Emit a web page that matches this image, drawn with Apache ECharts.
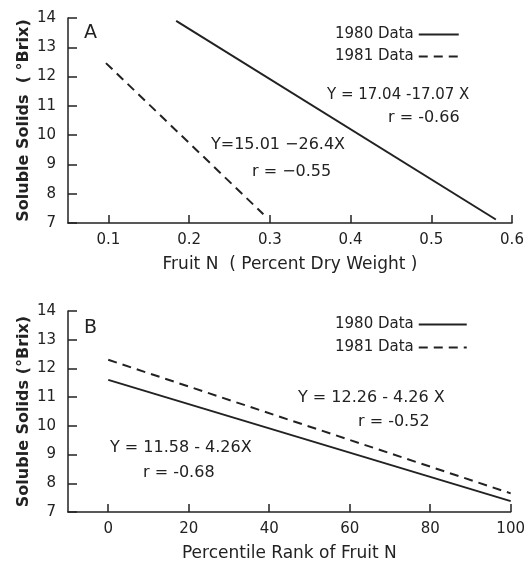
<!DOCTYPE html>
<html>
<head>
<meta charset="utf-8">
<script src="https://cdn.jsdelivr.net/npm/echarts@6/dist/echarts.min.js"></script>
<style>
  html, body { margin: 0; padding: 0; background: #fff; }
  #chart { width: 528px; height: 563px; }
</style>
</head>
<body>
<div id="chart"></div>
<script>
// panel A: soluble solids vs fruit N (fitted lines, end points)
const lineA1980 = [[0.184, 13.9], [0.58, 7.12]];
const lineA1981 = [[0.097, 12.46], [0.292, 7.3]];
// panel B: soluble solids vs percentile rank of fruit N
const lineB1980 = [[0, 11.6], [100, 7.38]];
const lineB1981 = [[0, 12.3], [100, 7.65]];

const xTicksA = [0.1, 0.2, 0.3, 0.4, 0.5, 0.6];
const xTicksB = [0, 20, 40, 60, 80, 100];
const yTicks = [7, 8, 9, 10, 11, 12, 13, 14];

const ink = '#222';
const font = 'DejaVu Sans';

const chart = echarts.init(document.getElementById('chart'));

const yAxisCommon = (gi, name) => ({
  type: 'value', gridIndex: gi, min: yTicks[0], max: yTicks[yTicks.length - 1], interval: 1,
  name: name, nameLocation: 'middle', nameGap: 36, nameMoveOverlap: false,
  nameTextStyle: { color: ink, fontFamily: font, fontSize: 16, fontWeight: 'bold' },
  axisLine: { show: true, onZero: false, lineStyle: { color: ink, width: 1.5 } },
  axisTick: { show: true, inside: true, length: 9, lineStyle: { color: ink, width: 1.5 } },
  axisLabel: { color: ink, fontFamily: font, fontSize: 15, margin: 12 },
  splitLine: { show: false }
});

const xAxisCommon = (gi, min, max, ticks, name, fmt) => ({
  type: 'value', gridIndex: gi, min: min, max: max,
  name: name, nameLocation: 'middle', nameGap: 33,
  nameTextStyle: { color: ink, fontFamily: font, fontSize: 17 },
  axisLine: { show: true, onZero: false, lineStyle: { color: ink, width: 1.5 } },
  axisTick: { show: true, inside: true, length: 8, lineStyle: { color: ink, width: 1.5 }, customValues: ticks },
  axisLabel: { color: ink, fontFamily: font, fontSize: 15, margin: 10, customValues: ticks, formatter: fmt },
  splitLine: { show: false }
});

const solid = { color: ink, width: 2, type: 'solid' };
const dashed = { color: ink, width: 2, type: [9, 6] };

const txt = (left, top, text, size) => ({
  type: 'text', left: left, top: top,
  style: { text: text, fill: ink, font: (size || 16) + 'px "' + font + '"' }
});

const legendCommon = {
  orient: 'vertical', align: 'right', itemHeight: 10,
  data: ['1980 Data', '1981 Data'],
  itemStyle: { color: 'transparent', borderWidth: 0 },
  textStyle: { color: ink, fontFamily: font, fontSize: 15 }
};

chart.setOption({
  backgroundColor: '#fff',
  animation: false,
  grid: [
    { left: 68, top: 18, width: 444, height: 205 },
    { left: 68, top: 311, width: 443, height: 203 }
  ],
  xAxis: [
    xAxisCommon(0, 0.05, 0.6, xTicksA, 'Fruit N  ( Percent Dry Weight )', v => v.toFixed(1)),
    xAxisCommon(1, -10, 100, xTicksB, 'Percentile Rank of Fruit N', v => String(v))
  ],
  yAxis: [
    yAxisCommon(0, 'Soluble Solids  ( °Brix)'),
    yAxisCommon(1, 'Soluble Solids (°Brix)')
  ],
  legend: [
    Object.assign({ left: 330, top: 22, itemGap: 7, itemWidth: 40 }, legendCommon),
    Object.assign({ left: 330, top: 312, itemGap: 8, itemWidth: 48 }, legendCommon)
  ],
  series: [
    { name: '1980 Data', type: 'line', xAxisIndex: 0, yAxisIndex: 0, data: lineA1980, symbol: 'none', lineStyle: solid, itemStyle: { color: ink } },
    { name: '1981 Data', type: 'line', xAxisIndex: 0, yAxisIndex: 0, data: lineA1981, symbol: 'none', lineStyle: dashed, itemStyle: { color: ink } },
    { name: '1980 Data', type: 'line', xAxisIndex: 1, yAxisIndex: 1, data: lineB1980, symbol: 'none', lineStyle: solid, itemStyle: { color: ink } },
    { name: '1981 Data', type: 'line', xAxisIndex: 1, yAxisIndex: 1, data: lineB1981, symbol: 'none', lineStyle: dashed, itemStyle: { color: ink } }
  ],
  graphic: [
    txt(84, 24, 'A', 19),
    txt(327, 88, 'Y = 17.04 -17.07 X', 15),
    txt(388, 110, 'r = -0.66'),
    txt(211, 137, 'Y=15.01 −26.4X'),
    txt(252, 164, 'r = −0.55'),
    txt(84, 319, 'B', 19),
    txt(298, 390, 'Y = 12.26 - 4.26 X'),
    txt(358, 414, 'r = -0.52'),
    txt(110, 440, 'Y = 11.58 - 4.26X'),
    txt(143, 465, 'r = -0.68')
  ]
});
</script>
</body>
</html>
